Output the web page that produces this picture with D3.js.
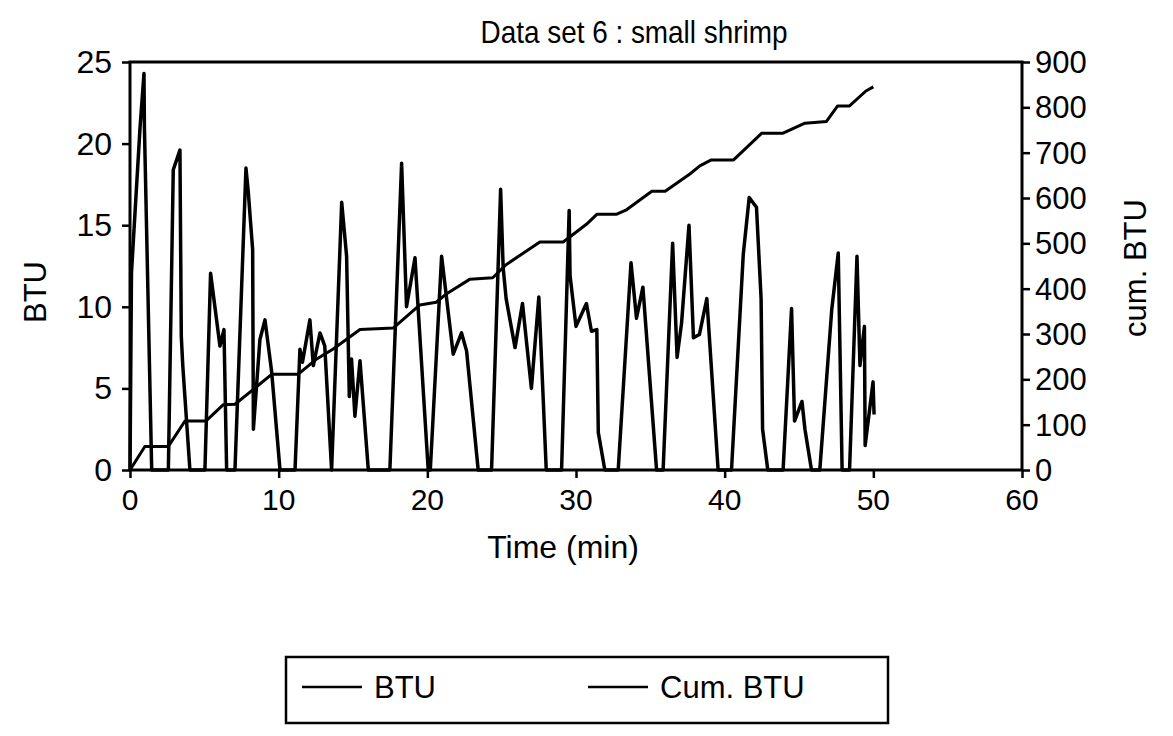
<!DOCTYPE html>
<html>
<head>
<meta charset="utf-8">
<script src="https://cdn.jsdelivr.net/npm/d3@7"></script>
<style>
  html, body { margin: 0; padding: 0; background: #fff; overflow: hidden; }
  svg { display: block; }
  svg text { font-family: "Liberation Sans", Arial, Helvetica, sans-serif; fill: #000; }
</style>
</head>
<body>
<div id="chart"></div>
<script>
// BTU series (time in minutes, BTU)
const btuTime = [0, 0.1, 0.67, 0.94, 0.97, 1.46, 2.58, 2.91, 3.36, 3.45, 3.55, 4.03,
    5.04, 5.42, 6.05, 6.32, 6.5, 7.06, 7.8, 7.95, 8.25, 8.3, 8.74, 9.08, 9.53, 10.09,
    11.1, 11.43, 11.6, 12.1, 12.33, 12.78, 13.1, 13.56, 14.24, 14.57, 14.75, 14.9, 15.13, 15.47, 16.03,
    17.48, 18.27, 18.6, 19.17, 20.06, 20.2, 20.96, 21.74, 22.3, 22.64, 23.42,
    24.32, 24.93, 25.1, 25.3, 25.9, 26.4, 27.0, 27.5, 28.0,
    29.03, 29.54, 29.6, 30.0, 30.7, 31.04, 31.4, 31.5, 31.94,
    32.84, 33.7, 34.07, 34.5, 35.42, 35.86, 36.5, 36.8, 37.1, 37.6, 37.9, 38.3, 38.8, 39.56,
    40.46, 41.25, 41.65, 42.14, 42.45, 42.55, 42.9, 43.93, 44.5, 44.7, 45.2, 45.4, 45.84,
    46.4, 47.2, 47.64, 47.9, 48.4, 48.9, 49.1, 49.4, 49.45, 49.98, 50.05];
const btuValues = [0, 12.1, 20.9, 24.3, 21.0, 0, 0, 18.4, 19.6, 8.2, 6.4, 0,
    0, 12.05, 7.6, 8.6, 0, 0, 18.5, 17.1, 13.5, 2.5, 8.0, 9.2, 6.0, 0,
    0, 7.4, 6.6, 9.2, 6.4, 8.4, 7.6, 0, 16.4, 13.1, 4.5, 6.8, 3.3, 6.7, 0,
    0, 18.8, 10.0, 13.0, 0, 0, 13.1, 7.1, 8.4, 7.3, 0,
    0, 17.2, 12.4, 10.5, 7.5, 10.2, 5.0, 10.6, 0,
    0, 15.9, 11.9, 8.8, 10.2, 8.5, 8.6, 2.3, 0,
    0, 12.7, 9.3, 11.2, 0, 0, 13.9, 6.9, 9.0, 15.0, 8.1, 8.3, 10.5, 0,
    0, 13.2, 16.7, 16.1, 10.5, 2.5, 0, 0, 9.9, 3.0, 4.2, 2.5, 0,
    0, 9.8, 13.3, 0, 0, 13.1, 6.4, 8.8, 1.5, 5.4, 3.4];

// cumulative BTU series
const cumTime = [0, 1.0, 2.58, 3.7, 5.1, 6.28, 7.06, 8.3, 9.53, 11.3, 12.56, 13.67, 15.47,
    17.7, 19.5, 20.6, 21.3, 22.87, 24.4, 25.3, 27.57, 29.14, 30.7, 31.4, 32.7, 33.4,
    35.1, 36.0, 37.66, 38.33, 39.1, 40.6, 42.5, 43.93, 45.4, 46.85, 47.6, 48.4, 49.5, 50.0];
const cumValues = [0, 52, 52, 108, 108, 144, 145, 178, 211, 211, 245, 267, 310,
    313, 364, 370, 389, 421, 424, 453, 503, 503, 542, 564, 564, 574,
    615, 615, 653, 671, 684, 684, 743, 743, 765, 769, 803, 803, 836, 845];

const xTicks = [0, 10, 20, 30, 40, 50, 60];
const yTicks = [0, 5, 10, 15, 20, 25];
const y2Ticks = [0, 100, 200, 300, 400, 500, 600, 700, 800, 900];

const width = 1173;
const height = 736;
const margin = { top: 62, right: 151, bottom: 266, left: 130 };
const innerWidth = width - margin.left - margin.right;
const innerHeight = height - margin.top - margin.bottom;

const svg = d3.select("#chart")
    .append("svg")
    .attr("width", width)
    .attr("height", height);

const g = svg.append("g")
    .attr("transform", `translate(${margin.left},${margin.top})`);

const x = d3.scaleLinear().domain([0, 60]).range([0, innerWidth]);
const y = d3.scaleLinear().domain([0, 25]).range([innerHeight, 0]);
const y2 = d3.scaleLinear().domain([0, 900]).range([innerHeight, 0]);

// title (narrow, tall lettering like the original)
svg.append("text")
    .attr("transform", "translate(634,43) scale(0.9,1)")
    .attr("text-anchor", "middle")
    .attr("font-size", "31px")
    .text("Data set 6 : small shrimp");

// axes: tick marks from d3, labels placed with the same scales
function styleAxis(sel) {
    sel.select(".domain").remove();
    sel.selectAll(".tick line").attr("stroke", "#000").attr("stroke-width", 2.5);
    sel.selectAll(".tick text").remove();
}

g.append("g")
    .attr("transform", `translate(0,${innerHeight})`)
    .call(d3.axisBottom(x).tickValues(xTicks).tickSize(8))
    .call(styleAxis);

g.append("g")
    .call(d3.axisLeft(y).tickValues(yTicks).tickSize(8))
    .call(styleAxis);

g.append("g")
    .attr("transform", `translate(${innerWidth},0)`)
    .call(d3.axisRight(y2).tickValues(y2Ticks).tickSize(8))
    .call(styleAxis);

g.selectAll(".x-label")
    .data(xTicks)
    .enter()
    .append("text")
    .attr("class", "x-label")
    .attr("x", (d) => x(d))
    .attr("y", innerHeight + 40)
    .attr("text-anchor", "middle")
    .attr("font-size", "30px")
    .text((d) => d);

g.selectAll(".y-label")
    .data(yTicks)
    .enter()
    .append("text")
    .attr("class", "y-label")
    .attr("x", -18)
    .attr("y", (d) => y(d) + 11)
    .attr("text-anchor", "end")
    .attr("font-size", "32px")
    .text((d) => d);

g.selectAll(".y2-label")
    .data(y2Ticks)
    .enter()
    .append("text")
    .attr("class", "y2-label")
    .attr("x", innerWidth + 13)
    .attr("y", (d) => y2(d) + 11)
    .attr("text-anchor", "start")
    .attr("font-size", "31px")
    .text((d) => d);

// plot frame
g.append("rect")
    .attr("width", innerWidth)
    .attr("height", innerHeight)
    .attr("fill", "none")
    .attr("stroke", "#000")
    .attr("stroke-width", 3);

// axis titles
svg.append("text")
    .attr("x", 563)
    .attr("y", 558)
    .attr("text-anchor", "middle")
    .attr("font-size", "32px")
    .text("Time (min)");

svg.append("text")
    .attr("transform", "translate(46,292) rotate(-90)")
    .attr("text-anchor", "middle")
    .attr("font-size", "31px")
    .text("BTU");

svg.append("text")
    .attr("transform", "translate(1146,268) rotate(-90)")
    .attr("text-anchor", "middle")
    .attr("font-size", "31px")
    .text("cum. BTU");

// lines
const btuData = btuTime.map((t, i) => ({ t, v: btuValues[i] }));
const cumData = cumTime.map((t, i) => ({ t, v: cumValues[i] }));

const btuLine = d3.line().x((d) => x(d.t)).y((d) => y(d.v));
const cumLine = d3.line().x((d) => x(d.t)).y((d) => y2(d.v));

g.append("path")
    .datum(cumData)
    .attr("d", cumLine)
    .attr("fill", "none")
    .attr("stroke", "#000")
    .attr("stroke-width", 3)
    .attr("stroke-linejoin", "round");

g.append("path")
    .datum(btuData)
    .attr("d", btuLine)
    .attr("fill", "none")
    .attr("stroke", "#000")
    .attr("stroke-width", 3.5)
    .attr("stroke-linejoin", "round");

// legend
const legend = svg.append("g").attr("transform", "translate(286,657)");

legend.append("rect")
    .attr("width", 602)
    .attr("height", 66)
    .attr("fill", "none")
    .attr("stroke", "#000")
    .attr("stroke-width", 2.5);

const legendItems = [
    { label: "BTU", x0: 16, textX: 88 },
    { label: "Cum. BTU", x0: 302, textX: 374 }
];

legendItems.forEach((d) => {
    legend.append("line")
        .attr("x1", d.x0)
        .attr("x2", d.x0 + 60)
        .attr("y1", 30)
        .attr("y2", 30)
        .attr("stroke", "#000")
        .attr("stroke-width", 2.5);
    legend.append("text")
        .attr("x", d.textX)
        .attr("y", 41)
        .attr("font-size", "31px")
        .text(d.label);
});
</script>
</body>
</html>
